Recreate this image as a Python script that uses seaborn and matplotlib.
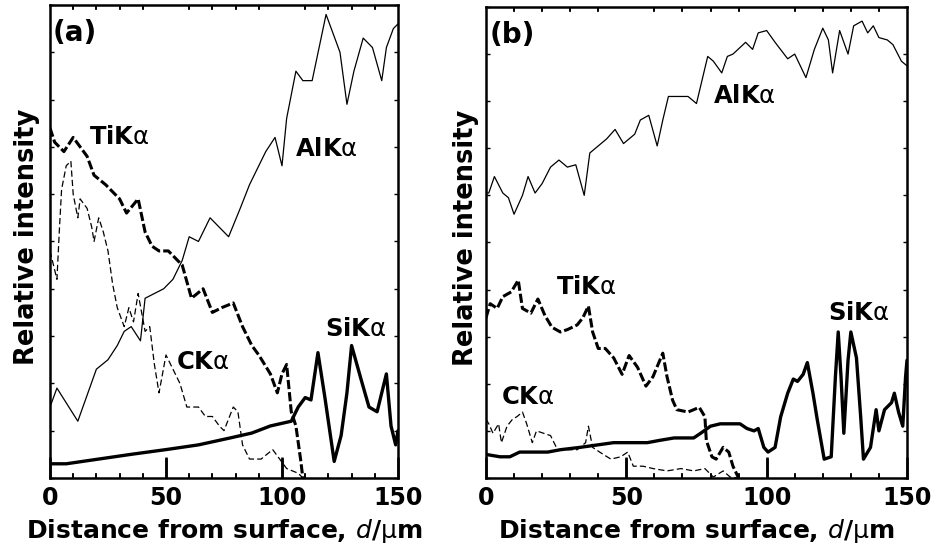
import matplotlib
matplotlib.use("Agg")
import matplotlib.pyplot as plt
from matplotlib.ticker import MultipleLocator
import seaborn as sns

# Values; intensity on a 0-100 relative scale
# ---- panel (a)
al_a_x = [0, 3, 12, 20, 25, 29, 32, 35, 39, 41, 45, 49, 53, 57, 60, 64, 69, 73, 77, 82,
          86, 90, 93, 97, 100, 102, 104, 106, 109, 113, 119, 122, 125, 128, 131, 135, 139, 143, 145, 148, 150]
al_a_v = [15, 19, 12, 23, 25, 28, 31, 32, 29, 38, 39, 40, 42, 46, 51, 50, 55, 53, 51, 57,
          62, 66, 69, 72, 66, 76, 81, 86, 84, 84, 98, 94, 90, 79, 86, 93, 91, 84, 91, 95, 96]

ti_a_x = [0, 2, 6, 10, 16, 19, 24, 30, 33, 38, 41, 44, 47, 51, 57, 61, 66, 70, 74, 79,
          83, 87, 90, 95, 98, 100, 102, 104, 106, 108, 109]
ti_a_v = [74, 71, 69, 72, 68, 64, 62, 59, 56, 59, 52, 49, 48, 48, 45, 38, 40, 35, 36, 37,
          32, 28, 26, 22, 18, 22, 24, 14, 11, 4, 0]

ck_a_x = [0, 3, 4, 5, 7, 9, 10, 12, 13, 16, 18, 19, 21, 23, 25, 27, 29, 32, 34, 36,
          38, 41, 43, 45, 47, 50, 54, 56, 59, 64, 67, 70, 73, 75, 79, 81, 83, 86, 91, 96,
          99, 102, 107, 109]
ck_a_v = [48, 42, 52, 61, 66, 67, 60, 55, 59, 57, 53, 50, 55, 52, 48, 41, 36, 32, 36, 33,
          39, 31, 32, 24, 18, 26, 22, 20, 15, 15, 13, 13, 11, 10, 15, 14, 7, 4, 4, 6,
          4, 2, 1, 0]

si_a_x = [0, 7, 21, 35, 50, 64, 78, 87, 95, 104, 107, 110, 112.5, 115.5, 118.5, 122.5, 125.5,
          128, 130, 134, 137.5, 141, 145, 147, 149, 150]
si_a_v = [3, 3, 4, 5, 6, 7, 8.5, 9.5, 11, 12, 15, 17, 16.5, 26.5, 17, 3.5, 9,
          18, 28, 21, 15, 14, 22, 11, 7, 10]

# ---- panel (b)
al_b_x = [0, 1, 3, 6, 8, 10, 13, 15, 17.5, 20, 23, 26, 29, 32, 35, 37, 39, 41, 43, 46,
          49, 53, 55, 58, 61, 63, 65, 69, 72, 75, 79, 81, 84, 86, 88, 92.5, 95, 97, 100, 103,
          107.5, 110, 114, 117, 120, 122, 123.5, 126, 129, 131, 134, 136, 138, 140, 143, 145, 148, 150]
al_b_v = [60.5, 60.5, 64, 60.5, 59.5, 56, 60, 64, 60.5, 62.5, 66, 67.5, 66, 66.5, 60, 69, 70, 71, 72, 74,
          71, 73, 76, 77, 70.5, 76, 81, 81, 81, 79.5, 89.5, 88.5, 86, 89.5, 90, 92.5, 91, 94.5, 95, 92.5,
          89, 90, 85, 91, 95.5, 93, 86, 95, 90, 96, 97, 94.5, 96, 93.5, 93, 92, 88.5, 87.5]

ti_b_x = [0, 1.5, 4, 6, 9, 11.5, 13, 16, 18.5, 21, 23.5, 26.5, 29, 32.5, 34.5, 36.5, 38, 40, 42.5, 45.5,
          48.5, 51, 54, 57, 59.5, 63, 64.5, 66.5, 68, 72, 76, 78, 78.5, 80.5, 82, 84.5, 86.5, 88, 90]
ti_b_v = [34, 37, 36, 38.5, 39.5, 42, 36, 35, 38, 34.5, 32, 31, 31.5, 32.5, 34, 36.5, 31, 27.5, 27.5, 25.5,
          22, 26, 23.5, 19.5, 21.5, 26.5, 21.5, 16.5, 14.5, 14, 15, 13, 8, 4.5, 4, 6.5, 5.5, 2.5, 0]

ck_b_x = [0, 1, 2.5, 4.5, 5.5, 7.5, 9.5, 11, 13, 14.5, 16.5, 18, 20.5, 23, 25.5, 29, 32.5, 35.5, 36.5, 38,
          40.5, 44.5, 48, 50.5, 52.5, 56, 59.5, 64.5, 69.5, 74, 78, 81, 84.5, 87, 90]
ck_b_v = [12.5, 11.5, 9.5, 11.5, 7.5, 11, 12.5, 13, 14, 11.5, 7.5, 10, 9.5, 9, 6, 6, 6, 7.5, 11, 6.5,
          5.5, 4, 4.5, 5.5, 2.5, 2.5, 2, 1.5, 2, 1.5, 2, 0.2, 1.5, 0.2, 0]

si_b_x = [0, 5, 8.5, 12, 17, 22, 26.5, 33.5, 39.5, 45.5, 51.5, 57.5, 62, 67, 74, 76.5, 80, 83.5, 87, 90.5,
          93, 95.5, 97, 99, 100.5, 103, 105, 107.5, 109.5, 111, 113, 114.5, 116.5, 118, 120.5, 123, 124.5,
          125.5, 126.5, 127.5, 129, 130, 132, 133.5, 134.5, 137, 139, 140, 142, 144.5, 145.5, 147, 148.5,
          149.5, 150]
si_b_v = [5, 4.5, 4.5, 5.5, 5.5, 5.5, 6, 6.5, 7, 7.5, 7.5, 7.5, 8, 8.5, 8.5, 9.5, 11, 11.5, 11.5, 11.5,
          10.5, 10, 10.5, 6.5, 5.5, 6.5, 13, 18, 21, 20.5, 22, 24.5, 18, 12.5, 4, 4.5, 21.5,
          31, 21.5, 9.5, 25, 31, 25.5, 13, 4, 6.5, 14.5, 10, 14.5, 16, 18, 14, 11,
          21.5, 25]

x_ticks = [0, 50, 100, 150]
minor_step = 10
x_label = 'Distance from surface, $\\mathit{d}$/$\\mathrm{\\mu}$m'
y_label = 'Relative intensity'

# label positions (x in um, y in relative intensity)
labels_a = [('TiK', 17, 72), ('AlK', 105.5, 69.5), ('CK', 54.5, 24.5), ('SiK', 118.5, 31.5)]
labels_b = [('AlK', 81, 81), ('TiK', 25, 40.5), ('CK', 5.5, 17.2), ('SiK', 122, 35)]

sns.set_style("white")
plt.rcParams['font.family'] = ['DejaVu Sans']
plt.rcParams['mathtext.fontset'] = 'dejavusans'
plt.rcParams.update({
    'text.color': 'black', 'axes.labelcolor': 'black', 'axes.edgecolor': 'black',
    'xtick.color': 'black', 'ytick.color': 'black',
    'xtick.bottom': True, 'xtick.top': True, 'ytick.left': True, 'ytick.right': True,
    'xtick.direction': 'in', 'ytick.direction': 'in', 'axes.axisbelow': False,
})

# line styles: Al thin solid, Ti thick dashed, C thin dashed, Si thick solid
styles = {
    'Al': dict(linewidth=0.9, linestyle='-'),
    'Ti': dict(linewidth=2.2, linestyle=(0, (3, 1))),
    'C': dict(linewidth=0.9, linestyle=(0, (5, 2.5))),
    'Si': dict(linewidth=2.4, linestyle='-'),
}

fig = plt.figure(figsize=(9.36, 5.58), dpi=100)
ax_a = fig.add_axes([0.0534, 0.1434, 0.3718, 0.8477])
ax_b = fig.add_axes([0.5192, 0.1434, 0.4498, 0.8441])

panels = [
    (ax_a, '(a)', [('Al', al_a_x, al_a_v), ('Ti', ti_a_x, ti_a_v), ('C', ck_a_x, ck_a_v), ('Si', si_a_x, si_a_v)],
     labels_a, -0.03),
    (ax_b, '(b)', [('Al', al_b_x, al_b_v), ('Ti', ti_b_x, ti_b_v), ('C', ck_b_x, ck_b_v), ('Si', si_b_x, si_b_v)],
     labels_b, -0.017),
]

for ax, tag, series, labels, ylab_x in panels:
    for name, xs, vs in series:
        sns.lineplot(x=xs, y=vs, ax=ax, color='black', estimator=None, sort=False,
                     legend=False, **styles[name])
    ax.set_xlim(0, 150)
    ax.set_ylim(0, 100)

    for sp in ax.spines.values():
        sp.set_linewidth(1.8)

    ax.set_xlabel(x_label, fontsize=18, fontweight='bold')
    ax.xaxis.set_label_coords(0.5, -0.082)
    ax.set_ylabel(y_label, fontsize=18.5, fontweight='bold')
    ax.yaxis.set_label_coords(ylab_x, 0.51)

    ax.text(0.008, 0.94, tag, transform=ax.transAxes, fontsize=20, fontweight='bold',
            ha='left', va='center')
    for txt, lx, ly in labels:
        ax.text(lx, ly, txt + '$\\mathrm{\\alpha}$', fontsize=17.5, fontweight='bold',
                ha='left', va='center')

    ax.set_xticks(x_ticks)
    ax.set_xticklabels([str(t) for t in x_ticks], fontsize=17, fontweight='bold')
    ax.xaxis.set_minor_locator(MultipleLocator(minor_step))
    ax.set_yticks([])
    ax.yaxis.set_minor_locator(MultipleLocator(minor_step))
    ax.xaxis.set_tick_params(which='major', direction='in', length=15, width=1.8,
                             top=False, bottom=True, pad=6)
    ax.xaxis.set_tick_params(which='minor', direction='in', length=3.5, width=1.2,
                             top=True, bottom=True)
    ax.yaxis.set_tick_params(which='minor', direction='in', length=3, width=1,
                             left=True, right=True)

    # tall inner ticks at 50 and 100 plus small marks along top and bottom
    xt = ax.get_xaxis_transform()
    minor_x = [m for m in range(0, 151, minor_step) if m not in x_ticks]
    ax.vlines(x_ticks[1:-1], 0, 0.042, transform=xt, colors='black', linewidth=1.8,
              zorder=10, clip_on=False)
    ax.vlines(minor_x, 0, 0.008, transform=xt, colors='black', linewidth=1.2,
              zorder=10, clip_on=False)
    ax.vlines(minor_x, 0.992, 1, transform=xt, colors='black', linewidth=1.2,
              zorder=10, clip_on=False)

fig.savefig('out.png', dpi=100)
